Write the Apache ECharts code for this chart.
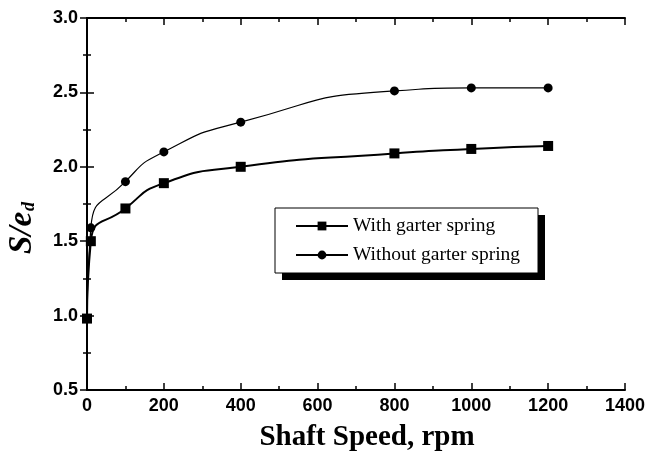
<!DOCTYPE html>
<html>
<head>
<meta charset="utf-8">
<script src="https://cdn.jsdelivr.net/npm/echarts@6/dist/echarts.min.js"></script>
<style>
  html, body { margin: 0; padding: 0; background: #fff; }
  #chart { width: 646px; height: 457px; }
</style>
</head>
<body>
<div id="chart"></div>
<script>
// shaft speed (rpm) and S/e_d readings
const withSpeed = [0, 10, 100, 200, 400, 800, 1000, 1200]
const withValues = [0.98, 1.5, 1.72, 1.89, 2.0, 2.09, 2.12, 2.14]
const withoutSpeed = [0, 10, 100, 200, 400, 800, 1000, 1200]
const withoutValues = [0.98, 1.59, 1.9, 2.1, 2.3, 2.51, 2.53, 2.53]
const seriesNames = ['With garter spring', 'Without garter spring']

const pairs = (xs, ys) => xs.map((x, i) => [x, ys[i]])

const chart = echarts.init(document.getElementById('chart'))

const serif = 'Liberation Serif, Times New Roman, serif'
const tickLabel = {
  fontFamily: 'Liberation Sans, Arial, sans-serif',
  fontWeight: 'bold',
  fontSize: 18,
  color: '#000'
}
const axisLine = { show: true, lineStyle: { color: '#000', width: 2 } }
const axisTick = { show: true, inside: true, length: 7, lineStyle: { color: '#000', width: 1.5 } }
const minorTick = { show: true, splitNumber: 2, length: 4, lineStyle: { color: '#000', width: 1.5 } }

// legend frame with its drop shadow
const box = { x: 275, y: 208, w: 263, h: 65 }

chart.setOption({
  animation: false,
  backgroundColor: '#fff',
  grid: { left: 87, right: 21, top: 18, bottom: 67, outerBoundsMode: 'none' },
  graphic: [{
    type: 'rect',
    z: 10,
    shape: { x: box.x + 7, y: box.y + 7, width: box.w, height: box.h },
    style: { fill: '#000' }
  }, {
    type: 'rect',
    z: 11,
    shape: { x: box.x, y: box.y, width: box.w, height: box.h },
    style: { fill: '#fff', stroke: '#000', lineWidth: 1 }
  }],
  legend: {
    left: box.x,
    top: box.y,
    z: 20,
    orient: 'vertical',
    itemWidth: 52,
    itemHeight: 11,
    itemGap: 9,
    padding: [8, 0, 0, 20],
    textStyle: {
      fontFamily: serif,
      fontSize: 19.5,
      color: '#000'
    },
    data: seriesNames
  },
  xAxis: [{
    type: 'value',
    min: 0,
    max: 1400,
    interval: 200,
    name: 'Shaft Speed, rpm',
    nameLocation: 'middle',
    nameGap: 33,
    nameTextStyle: {
      fontFamily: serif,
      fontWeight: 'bold',
      fontSize: 29,
      color: '#000',
      padding: [0, 0, 0, 22]
    },
    axisLine: axisLine,
    axisTick: axisTick,
    minorTick: minorTick,
    axisLabel: Object.assign({ margin: 7, formatter: v => String(v) }, tickLabel),
    splitLine: { show: false }
  }, {
    type: 'value',
    position: 'top',
    min: 0,
    max: 1400,
    interval: 200,
    axisLine: axisLine,
    axisTick: axisTick,
    minorTick: minorTick,
    axisLabel: { show: false },
    splitLine: { show: false }
  }],
  yAxis: [{
    type: 'value',
    min: 0.5,
    max: 3.0,
    interval: 0.5,
    name: '{s|S/e}{d|d}',
    nameLocation: 'middle',
    nameGap: 48,
    nameRotate: 90,
    nameTextStyle: {
      padding: [0, 0, 0, -48],
      rich: {
        s: {
          fontFamily: serif,
          fontWeight: 'bold',
          fontStyle: 'italic',
          fontSize: 33,
          color: '#000'
        },
        d: {
          fontFamily: serif,
          fontWeight: 'bold',
          fontStyle: 'italic',
          fontSize: 18,
          color: '#000',
          padding: [14, 0, 0, 1]
        }
      }
    },
    axisLine: axisLine,
    axisTick: axisTick,
    minorTick: minorTick,
    axisLabel: Object.assign({ margin: 9, formatter: v => v.toFixed(1) }, tickLabel),
    splitLine: { show: false }
  }, {
    type: 'value',
    position: 'right',
    min: 0.5,
    max: 3.0,
    interval: 0.5,
    axisLine: axisLine,
    axisTick: axisTick,
    minorTick: minorTick,
    axisLabel: { show: false },
    splitLine: { show: false }
  }],
  series: [{
    name: seriesNames[0],
    type: 'line',
    smooth: 0.6,
    symbol: 'rect',
    symbolSize: 10,
    itemStyle: { color: '#000' },
    lineStyle: { color: '#000', width: 2 },
    data: pairs(withSpeed, withValues)
  }, {
    name: seriesNames[1],
    type: 'line',
    smooth: 0.6,
    symbol: 'circle',
    symbolSize: 9,
    itemStyle: { color: '#000' },
    lineStyle: { color: '#000', width: 1.2 },
    data: pairs(withoutSpeed, withoutValues)
  }]
})
</script>
</body>
</html>
